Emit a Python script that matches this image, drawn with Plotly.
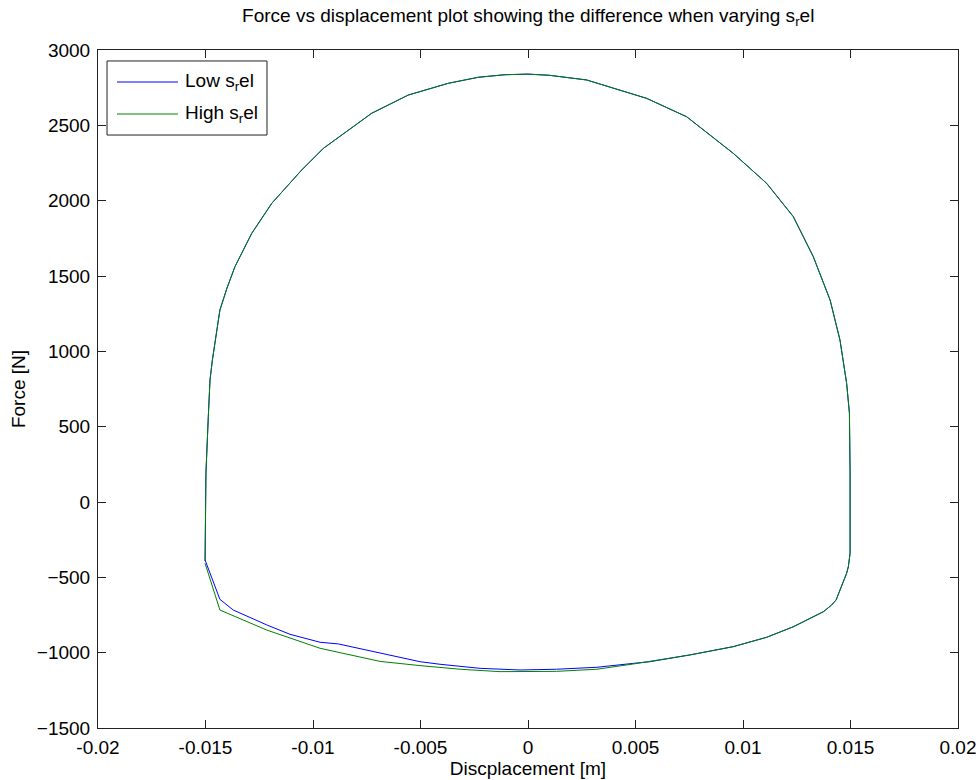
import numpy as np
import plotly.graph_objects as go

# Shared part of the loop: left flank, upper arc, right flank and the lower-right return
upper_disp = [-0.01502, -0.01500, -0.01498, -0.01487, -0.01479, -0.01468, -0.01450,
              -0.01433, -0.01400, -0.01363, -0.01285, -0.01192, -0.01053, -0.00952,
              -0.00727, -0.00557, -0.00371, -0.00231, -0.00107, 0.00000, 0.00100,
              0.00273, 0.00552, 0.00738, 0.00955, 0.01110, 0.01234, 0.01327,
              0.01405, 0.01451, 0.01482, 0.01495, 0.01498, 0.01498, 0.01490,
              0.01482, 0.01433, 0.01412, 0.01374, 0.01234, 0.01110, 0.00955,
              0.00753, 0.00567]
upper_force = [-390, -100, 190, 566, 810, 942, 1100,
               1274, 1420, 1562, 1783, 1982, 2203, 2347,
               2580, 2701, 2779, 2819, 2836, 2840, 2832,
               2801, 2679, 2557, 2314, 2115, 1894, 1628,
               1341, 1075, 788, 589, 200, -341, -429,
               -473, -650, -684, -728, -828, -898, -960,
               -1015, -1060]

# Lower return branch, low s_r el
low_disp = [0.00490, 0.00320, 0.00133, -0.00037, -0.00223, -0.00316, -0.00409,
            -0.00502, -0.00720, -0.00882, -0.00967, -0.01107, -0.01215,
            -0.01371, -0.01433, -0.01502]
low_force = [-1071, -1097, -1110, -1115, -1104, -1093, -1077,
             -1060, -990, -942, -931, -878, -816,
             -717, -646, -385]

# Lower return branch, high s_r el
high_disp = [0.00490, 0.00320, 0.00133, -0.00130, -0.00316, -0.00502, -0.00688,
             -0.00967, -0.01215, -0.01433, -0.01502]
high_force = [-1075, -1110, -1124, -1126, -1110, -1086, -1058,
              -971, -850, -717, -407]

x_ticks = [-0.02, -0.015, -0.01, -0.005, 0, 0.005, 0.01, 0.015, 0.02]
x_ticktext = ["-0.02", "-0.015", "-0.01", "-0.005", "0", "0.005", "0.01", "0.015", "0.02"]
y_ticks = [-1500, -1000, -500, 0, 500, 1000, 1500, 2000, 2500, 3000]

series_names = ["Low s<sub>r</sub>el", "High s<sub>r</sub>el"]
series_colors = ["#0000ff", "#008000"]

FONT = "Liberation Sans, Arial, Helvetica, sans-serif"

fig = go.Figure()
fig.add_trace(go.Scatter(
    x=np.concatenate([upper_disp, low_disp]),
    y=np.concatenate([upper_force, low_force]),
    mode="lines", line=dict(color=series_colors[0], width=1),
    name=series_names[0], showlegend=False))
fig.add_trace(go.Scatter(
    x=np.concatenate([upper_disp, high_disp]),
    y=np.concatenate([upper_force, high_force]),
    mode="lines", line=dict(color=series_colors[1], width=1),
    name=series_names[1], showlegend=False))

axis_common = dict(
    showgrid=False, zeroline=False, showline=True, linecolor="#222222", linewidth=1,
    mirror="allticks", ticks="inside", ticklen=8, tickcolor="#222222",
    tickfont=dict(family=FONT, size=19, color="black"), automargin=False,
)
fig.update_xaxes(range=[-0.02, 0.02], tickvals=x_ticks, ticktext=x_ticktext,
                 ticklabelstandoff=2,
                 title=dict(text="Discplacement [m]", font=dict(family=FONT, size=19, color="black"),
                            standoff=2),
                 **axis_common)
fig.update_yaxes(range=[-1500, 3000], tickvals=y_ticks,
                 ticklabelstandoff=3,
                 title=dict(text="Force [N]", font=dict(family=FONT, size=19, color="black"),
                            standoff=6),
                 **axis_common)

# Boxed legend in the upper-left corner
shapes = [dict(type="rect", xref="paper", yref="paper", x0=0.0105, x1=0.1965, y0=0.8746, y1=0.9838,
               line=dict(color="#222222", width=1), fillcolor="white", layer="above")]
annotations = []
for row_y, name, color in zip([0.9528, 0.9056], series_names, series_colors):
    shapes.append(dict(type="line", xref="paper", yref="paper", x0=0.0221, x1=0.0930,
                       y0=row_y, y1=row_y, line=dict(color=color, width=1), layer="above"))
    annotations.append(dict(xref="paper", yref="paper", x=0.0988, y=row_y, text=name,
                            showarrow=False, xanchor="left", yanchor="middle",
                            font=dict(family=FONT, size=19, color="black")))

fig.update_layout(
    width=980, height=780,
    margin=dict(l=98, r=22, t=50, b=52),
    paper_bgcolor="white", plot_bgcolor="white",
    title=dict(text="Force vs displacement plot showing the difference when varying s<sub>r</sub>el",
               x=0.539, xanchor="center", y=1 - 15 / 780, yanchor="middle",
               font=dict(family=FONT, size=19, color="black")),
    shapes=shapes, annotations=annotations,
)

fig.write_html("out.html")
